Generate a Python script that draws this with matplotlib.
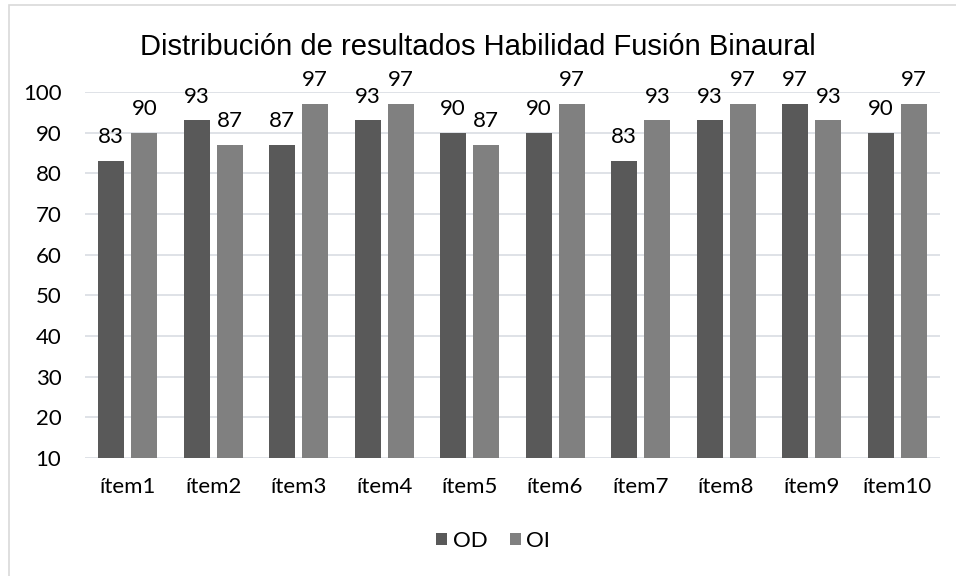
import matplotlib
matplotlib.use("Agg")
import matplotlib.pyplot as plt
import numpy as np
from matplotlib.patches import Rectangle

categories = ["ítem1", "ítem2", "ítem3", "ítem4", "ítem5", "ítem6", "ítem7", "ítem8", "ítem9", "ítem10"]
od = [83, 93, 87, 93, 90, 90, 83, 93, 97, 90]
oi = [90, 87, 97, 97, 87, 97, 93, 97, 93, 97]
series_names = ["OD", "OI"]
yticks = [10, 20, 30, 40, 50, 60, 70, 80, 90, 100]

W, H = 956, 576
fig = plt.figure(figsize=(W / 100, H / 100), dpi=100)
ax = fig.add_axes([85 / W, 1 - 458 / H, (940 - 85) / W, (458 - 92) / H])

x = np.arange(len(categories))
bw = 0.305
off = 0.193
c1, c2 = "#595959", "#808080"
b1 = ax.bar(x - off, od, bw, bottom=0, color=c1, label=series_names[0], zorder=2)
b2 = ax.bar(x + off, oi, bw, bottom=0, color=c2, label=series_names[1], zorder=2)

font = "Lato"
fs = 16
for bars, vals in ((b1, od), (b2, oi)):
    for rect, v in zip(bars, vals):
        ax.annotate(str(v), (rect.get_x() + rect.get_width() / 2, v), xytext=(0, 10),
                    textcoords="offset points", ha="center", va="bottom",
                    fontsize=fs, family=font, color="#000000")

ax.set_ylim(10, 100)
ax.set_xlim(-0.5, len(categories) - 0.5)
ax.set_yticks(yticks)
ax.set_yticklabels([str(t) for t in yticks], fontsize=fs, family=font)
ax.set_xticks(x)
ax.set_xticklabels(categories, fontsize=fs, family=font)
ax.tick_params(axis="both", length=0)
ax.tick_params(axis="y", pad=17)
ax.tick_params(axis="x", pad=14)
ax.grid(axis="y", color="#d9dde3", linewidth=1.2, zorder=0)
for s in ax.spines.values():
    s.set_visible(False)
ax.set_axisbelow(True)

fig.text(0.5, 1 - 47 / H, "Distribución de resultados Habilidad Fusión Binaural",
         ha="center", va="center", fontsize=21, family="Liberation Sans")

fig.legend(handles=[b1, b2], labels=series_names, loc="center", bbox_to_anchor=(493 / W, 1 - 541 / H),
           ncol=2, frameon=False, prop={"family": font, "size": fs},
           handlelength=0.5, handleheight=0.5, handletextpad=0.25, columnspacing=1.0)

fig.patches.append(Rectangle((9 / W, -0.01), 1.0, 1 - 5 / H + 0.01, transform=fig.transFigure,
                             fill=False, edgecolor="#d9d9d9", linewidth=1.2))

fig.savefig("out.png", dpi=100)
